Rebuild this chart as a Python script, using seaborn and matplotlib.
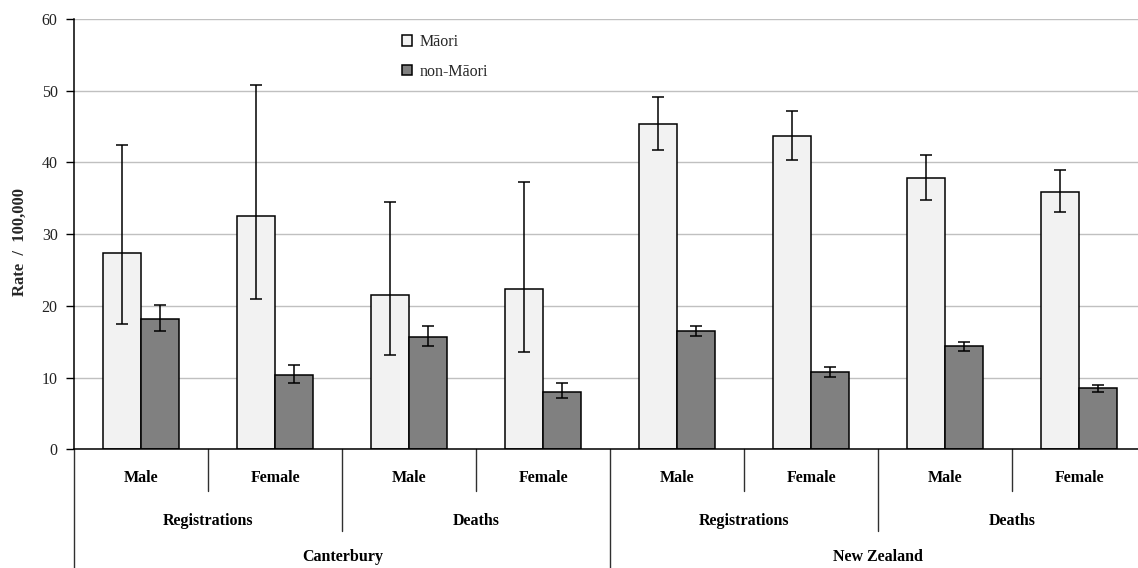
import numpy as np
import pandas as pd
import seaborn as sns
from matplotlib import pyplot as plt
from matplotlib import transforms

# category levels (outer -> inner)
regions = ["Canterbury", "New Zealand"]
measures = ["Registrations", "Deaths"]
sexes = ["Male", "Female"]
groups = ["Māori", "non-Māori"]

# rates per 100,000 with 95% CI, cell order: region / measure / sex
maori_rate = [27.4, 32.6, 21.5, 22.4, 45.4, 43.7, 37.8, 35.9]
maori_lo = [17.5, 21.0, 13.2, 13.5, 41.8, 40.3, 34.7, 33.1]
maori_hi = [42.5, 50.8, 34.5, 37.3, 49.1, 47.2, 41.1, 39.0]
non_rate = [18.2, 10.4, 15.6, 8.0, 16.5, 10.8, 14.4, 8.5]
non_lo = [16.5, 9.2, 14.4, 7.1, 15.8, 10.1, 13.7, 8.0]
non_hi = [20.1, 11.8, 17.2, 9.2, 17.2, 11.5, 14.9, 8.9]

colors = {"Māori": "#f2f2f2", "non-Māori": "#808080"}

cells = [f"{r}|{m}|{s}" for r in regions for m in measures for s in sexes]
df = pd.DataFrame({
    "cell": cells * 2,
    "group": [groups[0]] * len(cells) + [groups[1]] * len(cells),
    "rate": maori_rate + non_rate,
    "lo": maori_lo + non_lo,
    "hi": maori_hi + non_hi,
})

sns.set_style("white")
plt.rcParams["font.family"] = ["Liberation Serif", "DejaVu Serif"]

W, H = 1138, 568
fig = plt.figure(figsize=(W / 100, H / 100), dpi=100)
# plot area runs slightly past the right edge of the picture, as in the original
left, right, top, bottom = 74.3, 1146.3, 19.0, 449.3
ax = fig.add_axes([left / W, 1 - bottom / H, (right - left) / W, (bottom - top) / H])

sns.barplot(
    data=df, x="cell", y="rate", hue="group",
    order=cells, hue_order=groups, palette=colors,
    width=0.567, gap=0, errorbar=None,
    edgecolor="black", linewidth=1.1, saturation=1,
    ax=ax,
)

# confidence intervals at the bar centres
for cont, g in zip(ax.containers, groups):
    sub = df[df["group"] == g].set_index("cell").loc[cells]
    xs = [p.get_x() + p.get_width() / 2 for p in cont.patches]
    ax.errorbar(
        xs, sub["rate"],
        yerr=[sub["rate"] - sub["lo"], sub["hi"] - sub["rate"]],
        fmt="none", ecolor="black", elinewidth=1.1,
        capsize=4.6, capthick=1.1, zorder=4,
    )

ax.set_xlim(-0.5, len(cells) - 0.5)
ax.set_ylim(0, 60)
ax.set_yticks(range(0, 61, 10))
ax.yaxis.grid(True, color="#c0c0c0", linewidth=1)
ax.set_axisbelow(True)
for side in ["top", "right"]:
    ax.spines[side].set_visible(False)
for side in ["left", "bottom"]:
    ax.spines[side].set_color("black")
    ax.spines[side].set_linewidth(1.1)
ax.tick_params(axis="y", direction="out", length=6, width=1, color="black",
               labelsize=11.5, labelcolor="#222222", pad=6, left=True)
ax.tick_params(axis="x", length=0, labelbottom=False)
ax.set_xlabel("")
ax.set_ylabel("Rate  /  100,000", fontsize=12, fontweight="bold")
ax.yaxis.set_label_coords((28 - left) / (right - left), (bottom - 242) / (bottom - top))

# multi-level category axis
trans = transforms.blended_transform_factory(ax.transData, ax.transAxes)
ph = bottom - top
def ay(px):
    return (bottom - px) / ph

lab_kw = dict(transform=trans, ha="center", va="center", fontsize=11.5,
              fontweight="bold", color="black")
for i, c in enumerate(cells):
    ax.text(i, ay(478), c.split("|")[2], **lab_kw)
for j in range(len(regions) * len(measures)):
    ax.text(j * 2 + 0.5, ay(521), measures[j % 2], **lab_kw)
for k, r in enumerate(regions):
    ax.text(k * 4 + 1.5, ay(557), r, **lab_kw)

line_kw = dict(transform=trans, color="#303030", linewidth=1, clip_on=False)
for x in np.arange(-0.5, len(cells), 1.0):
    if x == -0.5 or (x + 0.5) % 4 == 0:
        end = ay(H + 2)
    elif (x + 0.5) % 2 == 0:
        end = ay(531)
    else:
        end = ay(491)
    ax.plot([x, x], [0, end], **line_kw)

leg = ax.legend(
    loc="upper left", bbox_to_anchor=(402 / W, 1 - 34 / H),
    bbox_transform=fig.transFigure, frameon=False,
    prop={"family": ["Liberation Serif", "DejaVu Serif"], "size": 11.5},
    handlelength=0.65, handleheight=0.65, handletextpad=0.45,
    labelspacing=0.85, borderpad=0, borderaxespad=0,
)
for h in leg.legend_handles:
    h.set_edgecolor("black")
    h.set_linewidth(1.1)

fig.savefig("out.png", dpi=100)
